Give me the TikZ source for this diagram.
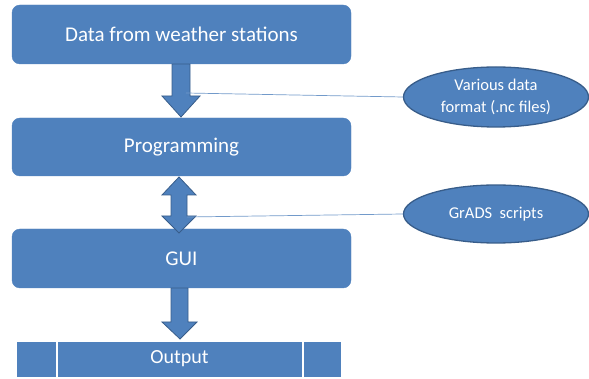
\documentclass[tikz,border=0pt]{standalone}
\usepackage{fontspec}
\setmainfont{Carlito}
\usetikzlibrary{shapes.geometric}
\definecolor{boxblue}{HTML}{4F81BD}
\definecolor{edgeblue}{HTML}{385D8A}
\tikzset{
  stagebox/.style={draw=boxblue, fill=boxblue, rounded corners=8pt, text=white,
    minimum width=339pt, inner sep=0pt, font=\fontsize{21}{25}\selectfont},
  outbox/.style={draw=white, line width=1pt, fill=boxblue, text=white, inner sep=0pt,
    minimum height=36pt, font=\fontsize{20}{24}\selectfont},
  bubble/.style={ellipse, draw=edgeblue, line width=1.3pt, fill=boxblue, text=white,
    minimum width=185pt, minimum height=60pt, inner sep=0pt, align=center,
    font=\fontsize{16.5}{22}\selectfont},
  blockarrow/.style={draw=edgeblue, line width=0.8pt, fill=boxblue},
  link/.style={draw=boxblue!80, line width=0.7pt}
}
\begin{document}
\begin{tikzpicture}[x=1pt, y=-1pt]
\useasboundingbox (0,0) rectangle (589,379);
% stages
\node[stagebox, minimum height=59pt] (data) at (181.5,34.5) {Data from weather stations};
\node[stagebox, minimum height=58pt] (prog) at (181.5,147) {Programming};
\node[stagebox, minimum height=59pt] (gui) at (181.5,258.5) {GUI};
\node[outbox, minimum width=245pt] (out) at (179.5,359) {Output};
\node[outbox, minimum width=40pt, anchor=east] (outl) at (out.west) {};
\node[outbox, minimum width=38pt, anchor=west] (outr) at (out.east) {};
% block arrows
\draw[blockarrow] (172,64) -- (190,64) -- (190,96) -- (200,96) -- (181,117)
  -- (162,96) -- (172,96) -- cycle;
\draw[blockarrow] (179,177) -- (196,195) -- (187,195) -- (187,216) -- (196,216)
  -- (179,233) -- (162,216) -- (171,216) -- (171,195) -- (162,195) -- cycle;
\draw[blockarrow] (171,288) -- (188,288) -- (188,322) -- (197,322) -- (180,339)
  -- (162,322) -- (171,322) -- cycle;
% bubbles
\node[bubble] (fmt) at (496,97) {Various data\\format (.nc files)};
\node[bubble, minimum height=58pt] (grads) at (496,214) {GrADS\ \ scripts};
% connectors
\coordinate (a1) at (186,93);
\coordinate (a2) at (187,217);
\draw[link] (a1) -- (fmt.west);
\draw[link] (a2) -- (grads.west);
\end{tikzpicture}
\end{document}
